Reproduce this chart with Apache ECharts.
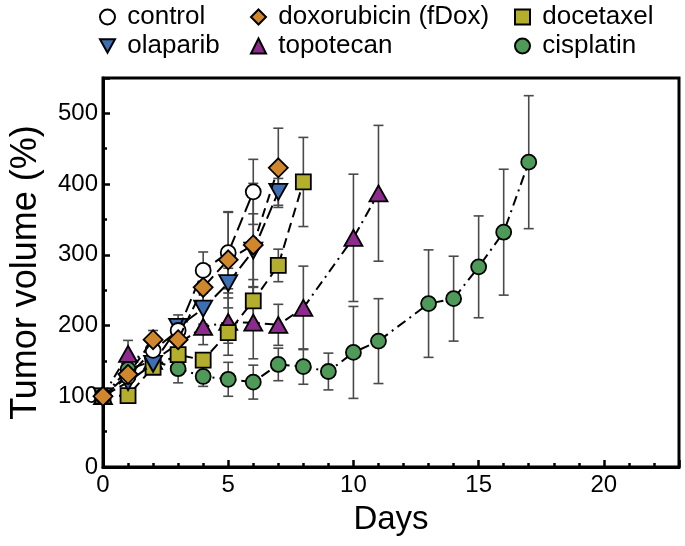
<!DOCTYPE html>
<html>
<head>
<meta charset="utf-8">
<script src="https://cdn.jsdelivr.net/npm/echarts@6/dist/echarts.min.js"></script>
<style>
  html, body { margin: 0; padding: 0; background: #fff; }
  #chart { width: 685px; height: 546px; }
</style>
</head>
<body>
<div id="chart"></div>
<script>
// days and mean tumor volume (%) with SD
const controlDays = [0, 1, 2, 3, 4, 5, 6];
const controlVals = [100, 128, 165, 193, 278, 303, 389];
const controlSd = [0, 8, 10, 12, 26, 57, 46];

const olaparibDays = [0, 1, 2, 3, 4, 5, 6, 7];
const olaparibVals = [100, 120, 146, 198, 224, 260, 306, 389];
const olaparibSd = [0, 10, 10, 17, 22, 21, 52, 19];

const doxDays = [0, 1, 2, 3, 4, 5, 6, 7];
const doxVals = [100, 131, 180, 180, 254, 293, 314, 423];
const doxSd = [0, 10, 13, 12, 20, 68, 87, 56];

const docetaxelDays = [0, 1, 2, 3, 4, 5, 6, 7, 8];
const docetaxelVals = [100, 101, 141, 159, 151, 190, 235, 285, 403];
const docetaxelSd = [0, 6, 8, 14, 10, 15, 30, 23, 63];

const topotecanDays = [0, 1, 2, 4, 5, 6, 7, 8, 10, 11];
const topotecanVals = [100, 160, 150, 198, 205, 204, 201, 225, 324, 387];
const topotecanSd = [0, 19, 12, 25, 47, 51, 29, 59, 90, 96];

const cisplatinDays = [0, 1, 2, 3, 4, 5, 6, 7, 8, 9, 10, 11, 13, 14, 15, 16, 17];
const cisplatinVals = [100, 138, 150, 139, 128, 124, 120, 145, 142, 135, 162, 178, 231, 238, 283, 332, 431];
const cisplatinSd = [0, 10, 10, 20, 14, 24, 24, 23, 25, 26, 65, 60, 76, 60, 72, 89, 94];

const FONT = 'Liberation Sans';

// drawing order: first = bottom
const groups = [
    {name: 'cisplatin', days: cisplatinDays, vals: cisplatinVals, sd: cisplatinSd,
        symbol: 'circle', size: 15, color: '#4f9a59', dash: [10, 5, 2, 5]},
    {name: 'topotecan', days: topotecanDays, vals: topotecanVals, sd: topotecanSd,
        symbol: 'triangle', size: [18, 16], color: '#8c2a8e', dash: [10, 5, 2, 5]},
    {name: 'docetaxel', days: docetaxelDays, vals: docetaxelVals, sd: docetaxelSd,
        symbol: 'rect', size: 15, color: '#b3ae2c', dash: [10, 6]},
    {name: 'olaparib', days: olaparibDays, vals: olaparibVals, sd: olaparibSd,
        symbol: 'path://M0,0 L10,0 L5,9 Z', size: [18, 16], color: '#3d6fb4', dash: [14, 5]},
    {name: 'control', days: controlDays, vals: controlVals, sd: controlSd,
        symbol: 'circle', size: 15, color: '#ffffff', dash: [14, 6]},
    {name: 'doxorubicin (fDox)', days: doxDays, vals: doxVals, sd: doxSd,
        symbol: 'diamond', size: 19, color: '#d0872b', dash: [9, 6]}
];

const chart = echarts.init(document.getElementById('chart'));

const errorSeries = [];
const lineSeries = [];
groups.forEach(function (g, k) {
    const errData = g.days.map(function (d, i) {
        return [d, g.vals[i] - g.sd[i], g.vals[i] + g.sd[i]];
    });
    errorSeries.push({
        type: 'custom',
        name: g.name + '_err',
        data: errData,
        z: 1,
        silent: true,
        renderItem: function (params, api) {
            if (api.value(2) - api.value(1) <= 0) return;
            const lo = api.coord([api.value(0), api.value(1)]);
            const hi = api.coord([api.value(0), api.value(2)]);
            const half = 5;
            const style = {stroke: '#4a4a4a', lineWidth: 1.6};
            return {
                type: 'group',
                children: [
                    {type: 'line', shape: {x1: lo[0], y1: lo[1], x2: hi[0], y2: hi[1]}, style: style},
                    {type: 'line', shape: {x1: lo[0] - half, y1: lo[1], x2: lo[0] + half, y2: lo[1]}, style: style},
                    {type: 'line', shape: {x1: hi[0] - half, y1: hi[1], x2: hi[0] + half, y2: hi[1]}, style: style}
                ]
            };
        }
    });
    lineSeries.push({
        type: 'line',
        name: g.name,
        data: g.days.map(function (d, i) { return [d, g.vals[i]]; }),
        z: 3 + k,
        symbol: g.symbol,
        symbolSize: g.size,
        showAllSymbol: true,
        itemStyle: {color: g.color, borderColor: '#000', borderWidth: 1.8},
        lineStyle: {color: '#000', width: 2, type: g.dash},
        emphasis: {disabled: true}
    });
});

// legend: two rows, three columns
const legendPos = {
    'control': [99, 4],
    'doxorubicin (fDox)': [250, 4],
    'docetaxel': [514, 4],
    'olaparib': [99, 33],
    'topotecan': [250, 33],
    'cisplatin': [514, 33]
};
const legends = groups.map(function (g) {
    return {
        data: [{name: g.name, icon: g.symbol}],
        left: legendPos[g.name][0],
        top: legendPos[g.name][1],
        padding: 0,
        itemWidth: 15,
        itemHeight: 15,
        itemGap: 0,
        selectedMode: false,
        formatter: function (name) { return ' ' + name; },
        textStyle: {fontFamily: FONT, fontSize: 26, color: '#000'}
    };
});

const option = {
    animation: false,
    backgroundColor: '#fff',
    textStyle: {fontFamily: FONT},
    legend: legends,
    grid: {
        left: 97, right: 6, top: 78, bottom: 79,
        show: true, borderColor: '#000', borderWidth: 3
    },
    xAxis: {
        type: 'value',
        min: 0, max: 23, interval: 5,
        name: 'Days',
        nameLocation: 'middle',
        nameGap: 36,
        nameTextStyle: {fontFamily: FONT, fontSize: 33, color: '#000'},
        axisLine: {lineStyle: {color: '#000', width: 3}},
        axisTick: {inside: true, length: 7, lineStyle: {color: '#000', width: 2.5}},
        minorTick: {show: true, splitNumber: 5, length: 4, lineStyle: {color: '#000', width: 2.5}},
        axisLabel: {fontFamily: FONT, fontSize: 24, color: '#000', margin: 6, showMaxLabel: false},
        splitLine: {show: false}
    },
    yAxis: {
        type: 'value',
        min: 0, max: 550, interval: 100,
        name: 'Tumor volume (%)',
        nameLocation: 'middle',
        nameGap: 59,
        nameTextStyle: {fontFamily: FONT, fontSize: 36, color: '#000'},
        axisLine: {lineStyle: {color: '#000', width: 3}},
        axisTick: {inside: true, length: 7, lineStyle: {color: '#000', width: 2.5}},
        minorTick: {show: true, splitNumber: 2, length: 4, lineStyle: {color: '#000', width: 2.5}},
        axisLabel: {fontFamily: FONT, fontSize: 24, color: '#000', margin: 5, showMaxLabel: false},
        splitLine: {show: false}
    },
    series: errorSeries.concat(lineSeries)
};

chart.setOption(option);
</script>
</body>
</html>
